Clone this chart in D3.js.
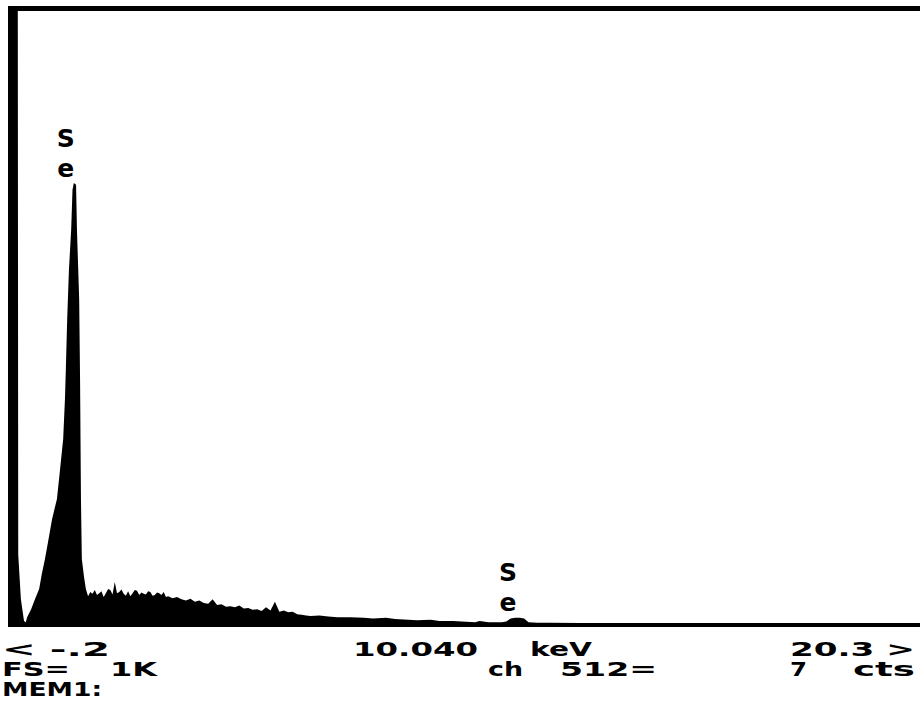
<!DOCTYPE html>
<html>
<head>
<meta charset="utf-8">
<script src="https://cdn.jsdelivr.net/npm/d3@7"></script>
<style>
  body { margin: 0; background: #fff; }
  text { font-family: "DejaVu Sans", sans-serif; font-weight: bold; fill: #000; }
</style>
</head>
<body>
<div id="chart"></div>
<script>
// spectrum: energy (keV) and counts (full scale 1K)
var energies = [-0.2, 0.02, 0.03, 0.09, 0.16, 0.20, 0.23, 0.32, 0.41, 0.50, 0.56, 0.63, 0.70, 0.79, 0.90, 0.97,
  1.04, 1.08, 1.10, 1.13, 1.17, 1.22, 1.25, 1.28, 1.33, 1.35, 1.40, 1.42, 1.44, 1.46, 1.51, 1.55,
  1.60, 1.65, 1.70, 1.75, 1.80, 1.85, 1.90, 1.95, 2.00, 2.05, 2.10, 2.15, 2.20, 2.25, 2.30, 2.35, 2.40, 2.45, 2.50,
  2.55, 2.60, 2.65, 2.70, 2.75, 2.80, 2.85, 2.90, 2.95, 3.00, 3.05, 3.10, 3.15, 3.20, 3.25, 3.30, 3.35, 3.40,
  3.50, 3.60, 3.70, 3.80, 3.90, 4.00, 4.10, 4.20, 4.30, 4.40, 4.50, 4.60, 4.70, 4.80, 4.90, 5.00, 5.10, 5.20,
  5.30, 5.40, 5.50, 5.60, 5.70, 5.80, 5.90, 6.00, 6.10, 6.20, 6.30, 6.40, 6.50, 6.60, 6.80, 7.00, 7.20, 7.50,
  7.80, 8.00, 8.30, 8.50, 8.80, 9.00, 9.30, 9.50, 9.80, 10.0, 10.3, 10.4, 10.6, 10.9, 11.0, 11.1, 11.2, 11.3,
  11.4, 11.5, 11.7, 12.0, 14.0, 17.0, 20.3];
var counts = [1000, 1000, 113, 40, 5, 3, 11, 24, 41, 57, 81, 105, 133, 170, 203, 251,
  300, 365, 413, 494, 575, 640, 705, 716, 713, 640, 527, 397, 203, 105, 76, 57,
  45, 52, 49, 55, 47, 50, 53, 44, 50, 57, 55, 48, 68, 50, 52, 56, 49, 46, 53,
  45, 50, 55, 54, 47, 51, 49, 48, 53, 52, 46, 47, 51, 50, 47, 52, 44, 45,
  42, 44, 40, 38, 41, 36, 38, 34, 33, 40, 31, 32, 28, 29, 27, 30, 25, 26,
  23, 24, 21, 27, 22, 36, 20, 22, 19, 20, 16, 15, 14, 13, 14, 12, 11, 11,
  10, 9, 10, 8, 7, 6, 7, 5, 5, 4, 3, 5, 3, 3, 4, 9, 10, 10,
  9, 3, 2, 2, 1, 1, 1];

var peakNames = ["Se", "Se"];
var peakEnergies = [1.10, 11.04];
var peakTops = [147, 581];   // baseline of the "S" glyph

var footer = [
  { t: "< -.2", x: 2, y: 656, w: 108 },
  { t: "10.040", x: 353, y: 656, w: 125 },
  { t: "keV", x: 530, y: 656, w: 62 },
  { t: "20.3 >", x: 790, y: 656, w: 125 },
  { t: "FS=", x: 2, y: 676, w: 68 },
  { t: "1K", x: 110, y: 676, w: 47 },
  { t: "ch", x: 488, y: 676, w: 35 },
  { t: "512=", x: 560, y: 676, w: 97 },
  { t: "7", x: 790, y: 676, w: 17 },
  { t: "cts", x: 853, y: 676, w: 62 },
  { t: "MEM1:", x: 2, y: 696, w: 100 }
];

var width = 920, height = 727;
var svg = d3.select("#chart").append("svg")
    .attr("width", width)
    .attr("height", height);

var x = d3.scaleLinear().domain([-0.2, 20.3]).range([8, 920]);
var y = d3.scaleLinear().domain([0, 1000]).range([624, 8]).clamp(true);

var data = energies.map(function(e, i) { return { e: e, c: counts[i] }; });

var area = d3.area()
    .x(function(d) { return x(d.e); })
    .y0(y(0))
    .y1(function(d) { return y(d.c); });

svg.append("path")
    .datum(data)
    .attr("d", area)
    .attr("fill", "#000");

// frame: top bar and baseline
svg.append("rect").attr("x", 8).attr("y", 6).attr("width", width - 8).attr("height", 5).attr("fill", "#000");
svg.append("rect").attr("x", 8).attr("y", 623).attr("width", width - 8).attr("height", 4).attr("fill", "#000");

// peak labels, letters stacked
peakNames.forEach(function(n, i) {
  var g = svg.append("g");
  g.append("text").attr("x", x(peakEnergies[i])).attr("y", peakTops[i])
    .attr("text-anchor", "middle").attr("font-size", 25).text(n[0]);
  g.append("text").attr("x", x(peakEnergies[i])).attr("y", peakTops[i] + 30)
    .attr("text-anchor", "middle").attr("font-size", 25).text(n[1]);
});

svg.selectAll("text.foot")
  .data(footer)
  .enter().append("text")
    .attr("class", "foot")
    .attr("x", function(d) { return d.x; })
    .attr("y", function(d) { return d.y; })
    .attr("font-size", 20)
    .attr("textLength", function(d) { return d.w; })
    .attr("lengthAdjust", "spacingAndGlyphs")
    .style("white-space", "pre")
    .text(function(d) { return d.t; });
</script>
</body>
</html>
